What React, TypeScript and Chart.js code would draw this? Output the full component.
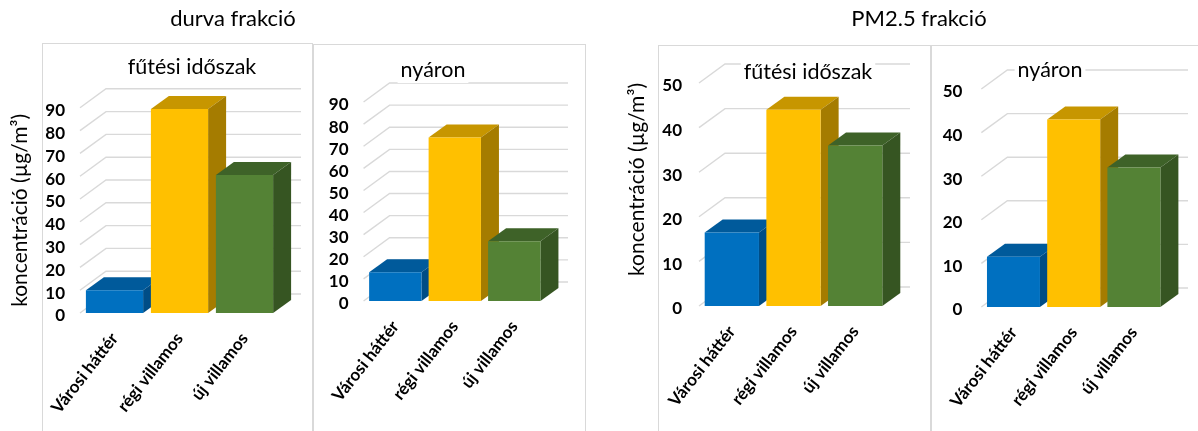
import React, { useEffect, useRef } from 'react';
import { Chart, registerables } from 'chart.js';

Chart.register(...registerables);

// Categories and measured concentrations (µg/m³)
const categories = ['Városi háttér', 'régi villamos', 'új villamos'];
const coarseHeating = [10, 89.5, 60.5];
const coarseSummer = [13, 74, 27];
const fineHeating = [16.5, 44, 36];
const fineSummer = [11.5, 43, 32];

const coarseMax = 90;
const fineMax = 50;
const tickStep = 10;

const yAxisTitle = 'koncentráció (µg/m³)';
const groupTitles = ['durva frakció', 'PM2.5 frakció'];
const panelTitles = ['fűtési időszak', 'nyáron'];

// Bar face colours: front, top (lit from above), side (shaded)
const frontColors = ['#0070C0', '#FFC000', '#548235'];
const topColors = ['#005A9B', '#C79600', '#3E6228'];
const sideColors = ['#004D86', '#A57C00', '#365522'];

const FONT = 'Lato, "Open Sans", "DejaVu Sans", sans-serif';
const GRID = '#d9d9d9';

// Oblique depth of the back wall and of the bars
const WALL = { dx: 24, dy: -19 };
const BAR = { dx: 18, dy: -13 };

type Rect = { left: number; top: number; width: number; height: number };
type Area = { left: number; right: number; top: number; bottom: number };

interface PanelSpec {
  canvas: Rect;
  frame: { x: number; y: number; w: number; h: number };
  area: Area;
  title: string;
  titleX: number;
  titleY: number;
  values: number[];
  max: number;
  tickPad: number;
  yTitle?: { align: 'center' | 'end'; x: number };
}

const panels: PanelSpec[] = [
  {
    canvas: { left: 0, top: 0, width: 313, height: 431 },
    frame: { x: 42, y: 43, w: 270, h: 420 },
    area: { left: 82, right: 277, top: 107.8, bottom: 313 },
    title: panelTitles[0],
    titleX: 192,
    titleY: 67,
    values: coarseHeating,
    max: coarseMax,
    tickPad: 17,
    yTitle: { align: 'center', x: 20 },
  },
  {
    canvas: { left: 313, top: 0, width: 273, height: 431 },
    frame: { x: 0, y: 44, w: 272, h: 420 },
    area: { left: 42, right: 231, top: 102, bottom: 301 },
    title: panelTitles[1],
    titleX: 120,
    titleY: 70,
    values: coarseSummer,
    max: coarseMax,
    tickPad: 17,
  },
  {
    canvas: { left: 590, top: 0, width: 341, height: 431 },
    frame: { x: 68, y: 45, w: 272, h: 420 },
    area: { left: 111, right: 296, top: 83, bottom: 306 },
    title: panelTitles[0],
    titleX: 218,
    titleY: 72,
    values: fineHeating,
    max: fineMax,
    tickPad: 19,
    yTitle: { align: 'end', x: 47 },
  },
  {
    canvas: { left: 931, top: 0, width: 267, height: 431 },
    frame: { x: 0, y: 45, w: 300, h: 420 },
    area: { left: 43, right: 233, top: 89, bottom: 307 },
    title: panelTitles[1],
    titleX: 119,
    titleY: 70,
    values: fineSummer,
    max: fineMax,
    tickPad: 21,
  },
];

function poly(ctx: CanvasRenderingContext2D, pts: number[][]) {
  ctx.beginPath();
  ctx.moveTo(pts[0][0], pts[0][1]);
  for (let i = 1; i < pts.length; i++) ctx.lineTo(pts[i][0], pts[i][1]);
  ctx.closePath();
  ctx.fill();
}

function makeDepthPlugin(spec: PanelSpec) {
  return {
    id: 'depth3d',
    beforeDraw(chart: any) {
      const { ctx } = chart;
      ctx.save();
      ctx.fillStyle = '#ffffff';
      ctx.fillRect(0, 0, chart.width, chart.height);
      ctx.strokeStyle = GRID;
      ctx.lineWidth = 1;
      const f = spec.frame;
      ctx.strokeRect(f.x + 0.5, f.y + 0.5, f.w, f.h);
      ctx.restore();
    },
    beforeDatasetsDraw(chart: any) {
      const { ctx, chartArea } = chart;
      const yScale = chart.scales.y;
      ctx.save();
      // side wall diagonals and back wall gridlines
      ctx.strokeStyle = GRID;
      ctx.lineWidth = 1.4;
      yScale.ticks.forEach((t: any) => {
        const py = yScale.getPixelForValue(t.value);
        ctx.beginPath();
        ctx.moveTo(chartArea.left - 2, py);
        ctx.lineTo(chartArea.left + WALL.dx, py + WALL.dy);
        ctx.lineTo(chartArea.right + WALL.dx, py + WALL.dy);
        ctx.stroke();
      });
      // top and side faces of each column, drawn behind the front faces
      const meta = chart.getDatasetMeta(0);
      meta.data.forEach((bar: any, i: number) => {
        const { x, y, base, width } = bar.getProps(['x', 'y', 'base', 'width'], true);
        const l = x - width / 2;
        const r = x + width / 2;
        ctx.fillStyle = topColors[i];
        poly(ctx, [
          [l, y],
          [l + BAR.dx, y + BAR.dy],
          [r + BAR.dx, y + BAR.dy],
          [r, y],
        ]);
        ctx.fillStyle = sideColors[i];
        poly(ctx, [
          [r, y],
          [r + BAR.dx, y + BAR.dy],
          [r + BAR.dx, base + BAR.dy],
          [r, base],
        ]);
      });
      ctx.restore();
    },
    afterDraw(chart: any) {
      const { ctx } = chart;
      ctx.save();
      ctx.font = `21.5px ${FONT}`;
      const w = ctx.measureText(spec.title).width;
      ctx.fillStyle = '#ffffff';
      ctx.fillRect(spec.titleX - w / 2 - 3, spec.titleY - 13, w + 6, 26);
      ctx.fillStyle = '#000000';
      ctx.textAlign = 'center';
      ctx.textBaseline = 'middle';
      ctx.fillText(spec.title, spec.titleX, spec.titleY);
      ctx.restore();
    },
  };
}

function Panel({ spec }: { spec: PanelSpec }) {
  const ref = useRef<HTMLCanvasElement | null>(null);

  useEffect(() => {
    if (!ref.current) return;
    const { canvas, area } = spec;
    const chart = new Chart(ref.current, {
      type: 'bar',
      data: {
        labels: categories,
        datasets: [
          {
            data: spec.values,
            backgroundColor: frontColors,
            borderWidth: 0,
            barPercentage: 0.88,
            categoryPercentage: 1,
          },
        ],
      },
      options: {
        responsive: false,
        maintainAspectRatio: false,
        animation: false,
        events: [],
        layout: {
          padding: { left: 0, top: area.top, right: canvas.width - area.right, bottom: 0 },
        },
        plugins: {
          legend: { display: false },
          tooltip: { enabled: false },
          title: { display: false },
        },
        scales: {
          x: {
            grid: { display: false, drawTicks: false },
            border: { display: false },
            ticks: {
              autoSkip: false,
              minRotation: 52,
              maxRotation: 52,
              padding: 16,
              color: '#000000',
              font: { family: FONT, size: 17, weight: 'bold' },
            },
            afterFit: (scale: any) => {
              scale.height = canvas.height - area.bottom;
            },
          },
          y: {
            min: 0,
            max: spec.max,
            grid: { display: false, drawTicks: false },
            border: { display: false },
            ticks: {
              autoSkip: false,
              stepSize: tickStep,
              padding: spec.tickPad,
              labelOffset: 3,
              color: '#000000',
              font: { family: FONT, size: 17, weight: 'bold' },
            },
            title: spec.yTitle
              ? {
                  display: true,
                  text: yAxisTitle,
                  align: spec.yTitle.align,
                  color: '#000000',
                  font: { family: FONT, size: 21, weight: 'normal' },
                  padding: { top: spec.yTitle.x - 12.6, bottom: 0 },
                }
              : { display: false },
            afterFit: (scale: any) => {
              scale.width = area.left;
            },
          },
        },
      },
      plugins: [makeDepthPlugin(spec)],
    } as any);
    return () => chart.destroy();
  }, [spec]);

  const c = spec.canvas;
  return (
    <canvas
      ref={ref}
      width={c.width}
      height={c.height}
      style={{ position: 'absolute', left: c.left, top: c.top, width: c.width, height: c.height, display: 'block' }}
    />
  );
}

const headingStyle: React.CSSProperties = {
  position: 'absolute',
  top: 5,
  width: 300,
  textAlign: 'center',
  fontFamily: FONT,
  fontSize: 22,
  lineHeight: '26px',
  color: '#000000',
  whiteSpace: 'nowrap',
};

export default function App() {
  return (
    <div
      style={{
        position: 'absolute',
        left: 0,
        top: 0,
        width: 1198,
        height: 431,
        overflow: 'hidden',
        background: '#ffffff',
      }}
    >
      {panels.map((p, i) => (
        <Panel key={i} spec={p} />
      ))}
      <div style={{ ...headingStyle, left: 233 - 150 }}>{groupTitles[0]}</div>
      <div style={{ ...headingStyle, left: 919 - 150 }}>{groupTitles[1]}</div>
    </div>
  );
}
